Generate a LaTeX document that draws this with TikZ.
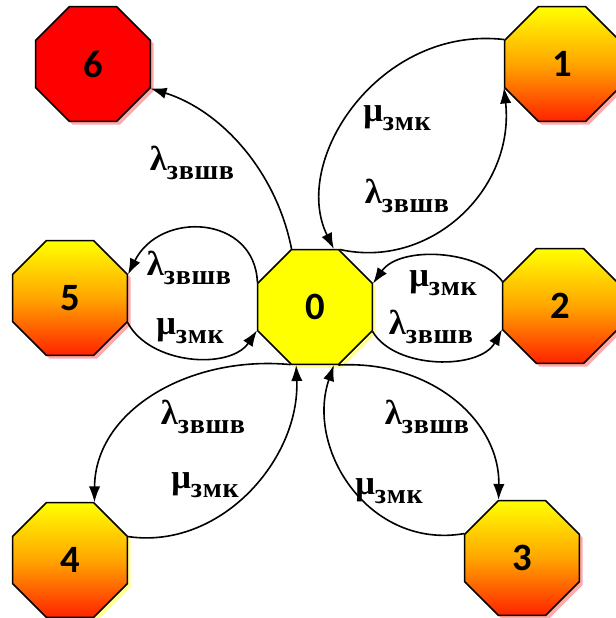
\documentclass[tikz,border=0pt]{standalone}
\usepackage{fontspec}
\setmainfont{Liberation Serif}
\newfontfamily\numfont{Carlito}
\usetikzlibrary{shapes.geometric,arrows.meta,shadows}
\definecolor{gy}{RGB}{255,255,0}
\definecolor{go}{RGB}{255,165,0}
\definecolor{gr}{RGB}{255,35,0}
\definecolor{shp}{RGB}{255,170,170}
\definecolor{shy}{RGB}{255,255,150}
\newcommand{\lamlab}{{\fontsize{26}{26}\selectfont\bfseries λ}\raisebox{-7pt}{\fontsize{21}{21}\selectfont\bfseries з\kern0.5pt в\kern0.5pt ш\kern0.5pt в}}
\newcommand{\mulab}{{\fontsize{26}{26}\selectfont\bfseries μ}\raisebox{-7pt}{\fontsize{21}{21}\selectfont\bfseries з\kern0.5pt м\kern0.5pt к}}
\begin{document}
\begin{tikzpicture}[x=0.75pt,y=-0.75pt,
  oct/.style={regular polygon, regular polygon sides=8, minimum size=93pt, inner sep=0pt,
    draw=black, line width=1.1pt, font=\numfont\bfseries\fontsize{29}{29}\selectfont},
  grad/.style={top color=gy, bottom color=gr, middle color=go},
  shpink/.style={drop shadow={shadow xshift=2.5pt, shadow yshift=-2.5pt, fill=shp, opacity=1}},
  shyel/.style={drop shadow={shadow xshift=2.5pt, shadow yshift=-2.5pt, fill=shy, opacity=1}},
  arr/.style={-{Latex[length=12pt,width=8.5pt]}, line width=1.2pt},
  lab/.style={inner sep=0pt, text=black}]
\useasboundingbox (0,0) rectangle (616,618);
\node[oct, fill=red, shpink] (n6) at (93,64) {6};
\node[oct, grad, shpink] (n1) at (562,64) {1};
\node[oct, grad, shpink] (n5) at (70,298) {5};
\node[oct, fill=gy, shyel] (n0) at (315,307) {0};
\node[oct, grad, shpink] (n2) at (560,306) {2};
\node[oct, grad, shyel] (n4) at (70,560) {4};
\node[oct, grad, shpink] (n3) at (522,558) {3};

\draw[arr] (n0.112.5) .. controls (276,170) and (220,110) .. (n6.337.5);
\draw[arr] (n1.157.5) .. controls (380,25) and (290,160) .. (n0.72);
\draw[arr] (n0.67.5) .. controls (430,270) and (515,190) .. (n1.202.5);
\draw[arr] (n2.157.5) .. controls (480,250) and (400,245) .. (n0.22.5);
\draw[arr] (n0.337.5) .. controls (395,370) and (480,370) .. (n2.202.5);
\draw[arr] (n0.157.5) .. controls (255,215) and (160,210) .. (n5.22.5);
\draw[arr] (n5.337.5) .. controls (150,365) and (230,370) .. (n0.202.5);
\draw[arr] (n0.247.5) .. controls (190,355) and (95,410) .. (n4.67.5);
\draw[arr] (n4.22.5) .. controls (220,550) and (300,460) .. (n0.252);
\draw[arr] (n0.292.5) .. controls (430,360) and (500,420) .. (n3.112.5);
\draw[arr] (n3.157.5) .. controls (370,550) and (305,450) .. (n0.288);

\node[lab] (l6) at (192,163) {\lamlab};
\node[lab] (m1) at (397,118) {\mulab};
\node[lab] (l1) at (407,196) {\lamlab};
\node[lab] (m2) at (443,283) {\mulab};
\node[lab] (l2) at (431,327) {\lamlab};
\node[lab] (l5) at (189,268) {\lamlab};
\node[lab] (m5) at (190,331) {\mulab};
\node[lab] (l4) at (203,417) {\lamlab};
\node[lab] (m4) at (205,485) {\mulab};
\node[lab] (l3) at (427,417) {\lamlab};
\node[lab] (m3) at (389,491) {\mulab};
\end{tikzpicture}
\end{document}
